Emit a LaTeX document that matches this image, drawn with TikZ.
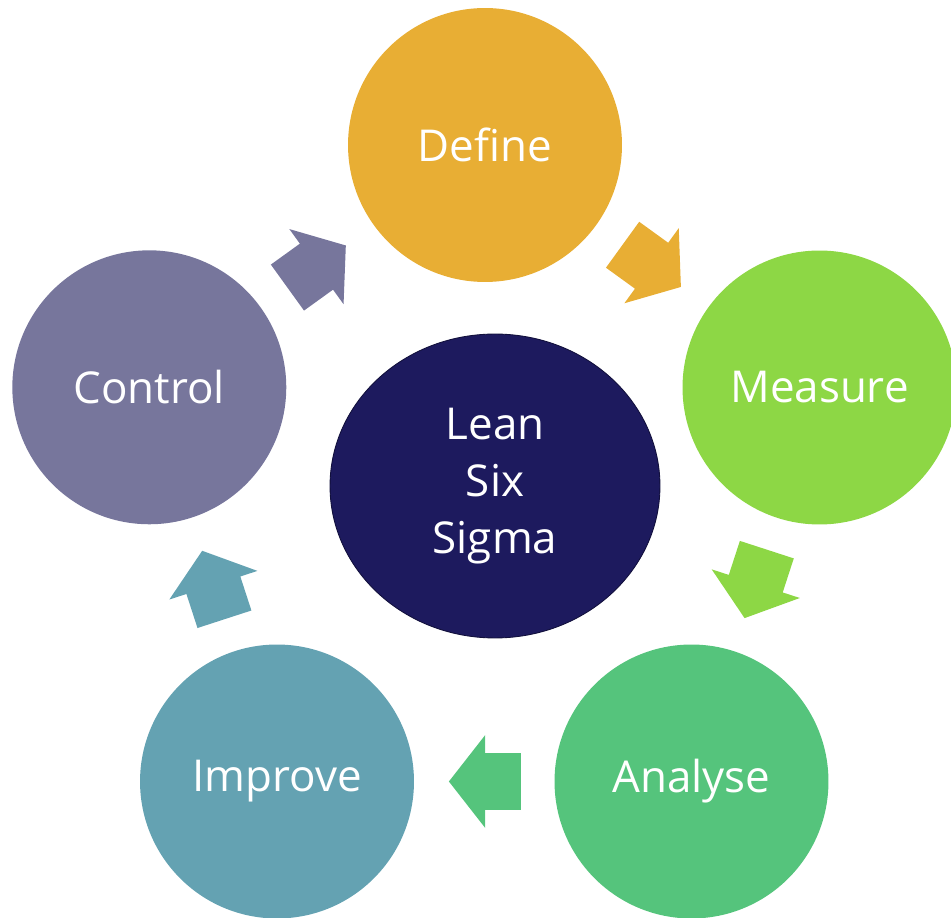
\documentclass[tikz,border=0pt]{standalone}
\usepackage{fontspec}
\setmainfont{Open Sans}
\usetikzlibrary{shapes.arrows, shapes.geometric, calc}

\definecolor{defcol}{RGB}{232,174,52}
\definecolor{meacol}{RGB}{141,215,69}
\definecolor{anacol}{RGB}{85,196,124}
\definecolor{impcol}{RGB}{100,162,178}
\definecolor{concol}{RGB}{119,118,156}
\definecolor{hubcol}{RGB}{29,26,94}
\definecolor{hubline}{RGB}{18,16,60}

\tikzset{
  phase/.style={circle, minimum size=5.48cm, inner sep=0pt, text=white,
    font=\fontsize{25}{30}\selectfont},
  flow/.style={single arrow, draw=none, inner xsep=0pt, inner ysep=0.56cm,
    minimum height=1.44cm, single arrow head extend=0.36cm,
    single arrow tip angle=104, anchor=tail},
}

\begin{document}
\begin{tikzpicture}[x=0.02cm, y=-0.02cm]
  \useasboundingbox (0,0) rectangle (951,918);

  % phases
  \node[phase, fill=defcol] (def) at (485, 145) {Define};
  \node[phase, fill=meacol] (mea) at (819.5, 387.5) {Measure};
  \node[phase, fill=anacol] (ana) at (691.5, 781.5) {Analyse};
  \node[phase, fill=impcol] (imp) at (277, 781.5) {Improve};
  \node[phase, fill=concol] (con) at (149.3, 387.3) {Control};

  % centre
  \node[ellipse, fill=hubcol, draw=hubline, line width=0.5pt, minimum width=6.6cm,
    minimum height=6.08cm, text=white, align=center,
    font=\fontsize{25}{32.5}\selectfont] (lss) at (495, 486) {Lean\\Six\\Sigma};

  % arrows
  \node[flow, fill=defcol, rotate=-35.9] (f1) at ($(def)!0.5!(mea)!0.74cm!(def)$) {};
  \node[flow, fill=meacol, rotate=-108] (f2) at ($(mea)!0.5!(ana)!0.74cm!(mea)$) {};
  \node[flow, fill=anacol, rotate=180] (f3) at ($(ana)!0.5!(imp)!0.74cm!(ana)$) {};
  \node[flow, fill=impcol, rotate=108] (f4) at ($(imp)!0.5!(con)!0.74cm!(imp)$) {};
  \node[flow, fill=concol, rotate=35.8] (f5) at ($(con)!0.5!(def)!0.74cm!(con)$) {};

\end{tikzpicture}
\end{document}
